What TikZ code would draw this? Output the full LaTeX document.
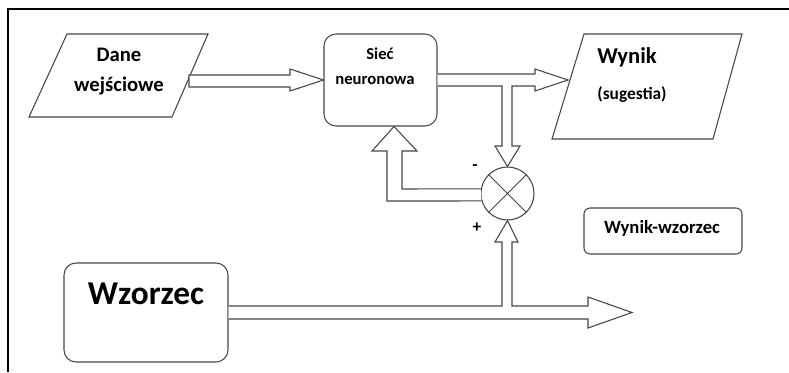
\documentclass[tikz,border=0pt]{standalone}
\usepackage{fontspec}
\setmainfont{Carlito}
\usetikzlibrary{calc}
\definecolor{lc}{RGB}{70,70,70}
\begin{document}
\begin{tikzpicture}[x=0.75pt,y=-0.75pt,
  ln/.style={draw=lc, line width=0.8pt, line join=miter, fill=white},
  rbox/.style={draw=lc, line width=0.8pt, rounded corners=9pt, inner sep=0pt},
  lbl/.style={font=\bfseries, anchor=base, inner sep=0pt, text=black},
  fs/.style={font=\bfseries\fontsize{#1}{#1}\selectfont}]
\useasboundingbox (0,0) rectangle (789,372);
% frame
\draw[black, line width=1.1pt] (8,372) -- (8,9) -- (789,9);

% input / output parallelograms
\draw[ln] (67,34) -- (208,34) -- (172,117) -- (29,117) -- cycle;
\draw[ln] (584,34) -- (742,34) -- (713,139) -- (552,139) -- cycle;

% boxes
\node[rbox, minimum width=84.75pt, minimum height=69pt] (siec) at (380.5,80) {};
\node[rbox, minimum width=123pt, minimum height=74.25pt] (wzorzec) at (146,312.5) {};
\node[rbox, rounded corners=4.5pt, minimum width=118.5pt, minimum height=34.5pt] (ww) at (663,231) {};
\node[circle, draw=lc, line width=0.8pt, minimum size=39.75pt, inner sep=0pt] (sum) at (507.5,193.5) {};
\draw[lc, line width=0.6pt] (sum.north west) -- (sum.south east) (sum.north east) -- (sum.south west);

% texts
\node[lbl, fs=15.5] (t1) at (119,61) {Dane};
\node[lbl, fs=15.5] (t2) at (119,91) {wejściowe};
\node[lbl, fs=12.5] (t3) at (380,59) {Sieć};
\node[lbl, fs=12.5] (t4) at (375,84) {neuronowa};
\node[lbl, fs=17] (t5) at (627,63) {Wynik};
\node[lbl, fs=13] (t6) at (632,99) {(sugestia)};
\node[lbl, fs=25] (t7) at (146,304) {Wzorzec};
\node[lbl, fs=14] (t8) at (662,233) {Wynik-wzorzec};
\node[lbl, fs=13] (minus) at (475,170) {-};
\node[lbl, fs=13] (plus) at (477,232) {+};

% arrow: Dane -> Siec
\draw[ln] (189,75) -- (290,75) -- (290,69) -- (siec.west) -- (290,91) -- (290,87) -- (189,87) -- cycle;

% arrow: Siec -> Wynik, with branch down to sum
\draw[ln] ($(siec.east)+(0,-6)$) -- (535,74) -- (535,69) -- (568,80) -- (535,91) -- (535,86)
  -- (512,86) -- (512,146) -- (520,146) -- (sum.north) -- (495,146) -- (502,146) -- (502,86)
  -- ($(siec.east)+(0,6)$);

% feedback: sum -> Siec
\draw[ln] (sum.196) -- (387,201) -- (387,151) -- (372,151) -- (siec.south -| 394,0)
  -- (417,151) -- (402,151) -- (402,189) -- (sum.170);

% arrow: Wzorzec -> right, with branch up to sum
\draw[ln] ($(wzorzec.east)+(0,-6.5)$) -- (502,306) -- (502,242) -- (495,242) -- (sum.south)
  -- (518,242) -- (512,242) -- (512,306) -- (588,306) -- (588,297) -- (632,312.5)
  -- (588,328) -- (588,319) -- ($(wzorzec.east)+(0,6.5)$);
\end{tikzpicture}
\end{document}
